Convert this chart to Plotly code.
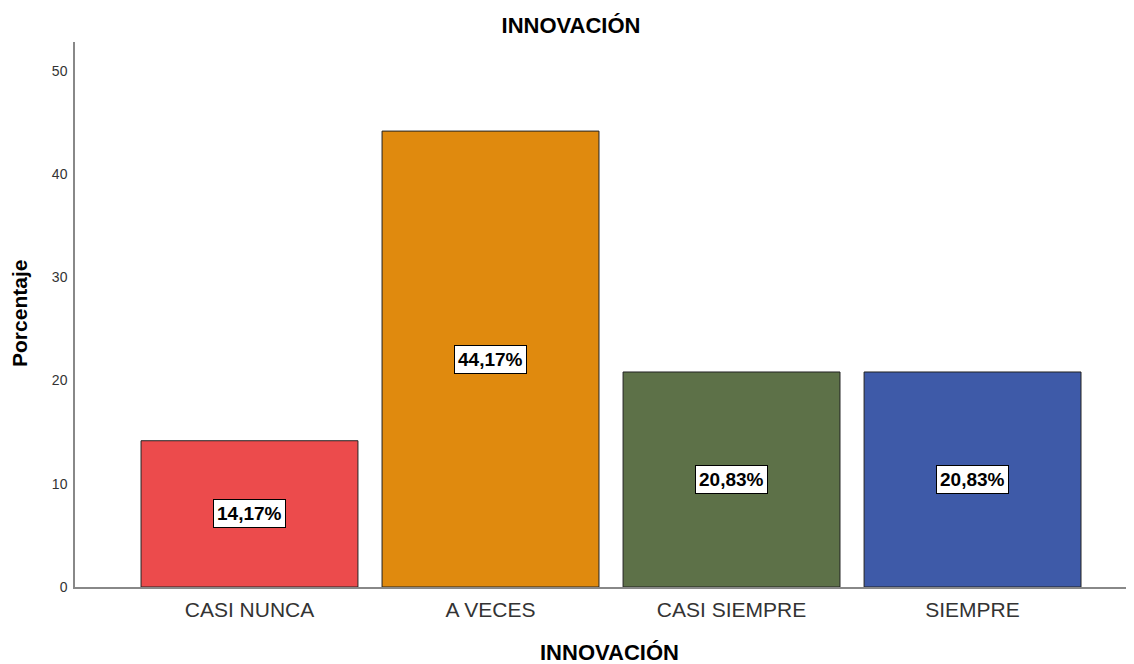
import plotly.graph_objects as go

categories = ["CASI NUNCA", "A VECES", "CASI SIEMPRE", "SIEMPRE"]
percentages = [14.17, 44.17, 20.83, 20.83]
labels = ["14,17%", "44,17%", "20,83%", "20,83%"]
colors = ["#EC4B4C", "#E08A0E", "#5D7148", "#3E5AA8"]

FONT = "Liberation Sans, Arial"

fig = go.Figure(go.Bar(
    x=categories,
    y=percentages,
    marker=dict(color=colors, line=dict(color="#222222", width=1)),
    hoverinfo="skip",
))

# value boxes at mid-height of each bar
for cat, val, lab in zip(categories, percentages, labels):
    fig.add_annotation(
        x=cat, y=val / 2, text="<b>" + lab + "</b>",
        showarrow=False,
        font=dict(family=FONT, size=19, color="black"),
        bgcolor="white", bordercolor="black", borderwidth=1, borderpad=3,
    )

# axis titles as annotations so they sit where the reference has them
fig.add_annotation(
    x=0.508, y=-0.1193, xref="paper", yref="paper",
    text="<b>INNOVACIÓN</b>", showarrow=False,
    xanchor="center", yanchor="middle",
    font=dict(family=FONT, size=22, color="black"),
)
fig.add_annotation(
    x=-0.0522, y=0.501, xref="paper", yref="paper",
    text="<b>Porcentaje</b>", showarrow=False, textangle=-90,
    xanchor="center", yanchor="middle",
    font=dict(family=FONT, size=21, color="black"),
)

fig.update_layout(
    width=1134, height=664,
    template="plotly_white",
    plot_bgcolor="white",
    paper_bgcolor="white",
    font=dict(family=FONT, color="#222222"),
    title=dict(text="<b>INNOVACIÓN</b>", x=0.4965, xanchor="center", y=0.9744, yanchor="middle",
               font=dict(size=22, color="black")),
    margin=dict(l=67, r=14, t=34, b=85),
    bargap=0.1,
    showlegend=False,
    xaxis=dict(
        range=[-0.724, 3.645],
        showline=True, linecolor="#888888", linewidth=1.5,
        showgrid=False, ticks="", ticklabelstandoff=3,
        tickfont=dict(size=21, color="#333333"),
        automargin=False,
    ),
    yaxis=dict(
        range=[0, 52.8],
        tickvals=[0, 10, 20, 30, 40, 50],
        showline=True, linecolor="#888888", linewidth=1.5,
        showgrid=False, zeroline=False, ticks="", ticklabelstandoff=3,
        tickfont=dict(size=14, color="#333333"),
        automargin=False,
    ),
)

fig.write_html("out.html")
